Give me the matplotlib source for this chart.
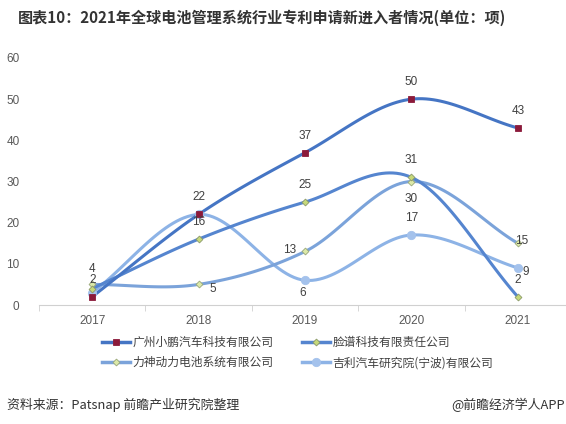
import numpy as np
import matplotlib
matplotlib.use("Agg")
import matplotlib.pyplot as plt
from matplotlib.lines import Line2D

plt.rcParams['font.family'] = ['Noto Sans CJK SC', 'DejaVu Sans']

# 数据
years = ['2017', '2018', '2019', '2020', '2021']
xiaopeng = [2, 22, 37, 50, 43]
lianpu = [4, 16, 25, 31, 2]
lishen = [5, 5, 13, 30, 15]
jili = [3, 22, 6, 17, 9]
names = ['广州小鹏汽车科技有限公司', '脸谱科技有限责任公司',
         '力神动力电池系统有限公司', '吉利汽车研究院(宁波)有限公司']


def smooth(xs, ys, n=30):
    # Catmull-Rom 平滑曲线, 类似 Excel 的平滑线
    px = np.array(xs, float)
    py = np.array(ys, float)
    px = np.concatenate([[2 * px[0] - px[1]], px, [2 * px[-1] - px[-2]]])
    py = np.concatenate([[2 * py[0] - py[1]], py, [2 * py[-1] - py[-2]]])
    ox, oy = [], []
    t = np.linspace(0, 1, n)
    for i in range(1, len(px) - 2):
        for arr, out in ((px, ox), (py, oy)):
            p0, p1, p2, p3 = arr[i - 1], arr[i], arr[i + 1], arr[i + 2]
            out.extend(0.5 * ((2 * p1) + (-p0 + p2) * t +
                              (2 * p0 - 5 * p1 + 4 * p2 - p3) * t ** 2 +
                              (-p0 + 3 * p1 - 3 * p2 + p3) * t ** 3))
    return ox, oy


fig = plt.figure(figsize=(5.66, 4.24), dpi=100)
ax = fig.add_axes([39 / 566, 1 - 305 / 424, 532 / 566, 247 / 424])

x = list(range(len(years)))
styles = [
    (xiaopeng, '#4575c4', 's', '#8b1a3a', '#8b1a3a', 5),
    (lianpu, '#5585cf', 'D', '#c6d97a', '#8c9a6a', 3.5),
    (lishen, '#7ba3da', 'D', '#dce9a8', '#9aa87a', 3.5),
    (jili, '#8db3e6', 'o', '#a4c2ec', '#a4c2ec', 6),
]
# 先画浅色线, 后画深色线
for vals, lc, mk, mfc, mec, ms in styles[::-1]:
    sx, sy = smooth(x, vals)
    ax.plot(sx, sy, color=lc, lw=2.2, solid_capstyle='round', zorder=2)
    ax.plot(x, vals, ls='none', marker=mk, ms=ms, mfc=mfc, mec=mec, mew=0.6, zorder=3)

lab = dict(fontsize=8.5, color='#404040', ha='center', va='center', family='Liberation Sans',
           textcoords='offset points')


def tag(i, v, dx=0, dy=12.2):
    ax.annotate(str(v), (i, v), xytext=(dx, dy), **lab)


# 数据标签
for i in range(1, 5):
    tag(i, xiaopeng[i])
tag(0, xiaopeng[0], 0, 12)
tag(0, lianpu[0], 0, 14)
for i in range(1, 5):
    tag(i, lianpu[i])
tag(1, lishen[1], 10, -3.5)
tag(2, lishen[2], -11, 1)
tag(3, lishen[3], 0, -12.5)
tag(4, lishen[4], 2.5, 1.5)
tag(2, jili[2], -2, -9)
tag(3, jili[3])
tag(4, jili[4], 6, -3)

ax.set_xlim(-0.5, 4.5)
ax.set_ylim(0, 60)
ax.set_yticks(range(0, 61, 10))
ax.set_xticks(x)
ax.set_xticklabels(years)
ax.set_xticks([i + 0.5 for i in range(-1, 5)], minor=True)
ax.tick_params(axis='x', which='major', length=0, labelsize=8, labelcolor='#595959', pad=7)
ax.tick_params(axis='x', which='minor', length=4, color='#d0d0d0', direction='out')
ax.tick_params(axis='y', length=0, labelsize=8, labelcolor='#595959', pad=14)
for lbl in ax.get_xticklabels() + ax.get_yticklabels():
    lbl.set_family('Liberation Sans')
    lbl.set_fontsize(8.5)
for s in ('top', 'right', 'left'):
    ax.spines[s].set_visible(False)
ax.spines['bottom'].set_color('#d0d0d0')
ax.set_facecolor('none')

order = [0, 2, 1, 3]
handles = [Line2D([], [], color=styles[k][1], lw=2.5, marker=styles[k][2], ms=styles[k][5],
                  mfc=styles[k][3], mec=styles[k][4], mew=0.6) for k in order]
fig.legend(handles, [names[k] for k in order], loc='upper left',
           bbox_to_anchor=(102 / 566, 1 - 336 / 424), borderpad=0, borderaxespad=0,
           ncol=2, frameon=False, fontsize=8.5, handlelength=2.4, handletextpad=0.2,
           columnspacing=2.4, labelspacing=0.6, labelcolor='#404040')

fig.text(18 / 566, 1 - 18 / 424, '图表10：2021年全球电池管理系统行业专利申请新进入者情况(单位：项)',
         fontsize=10.9, fontweight='bold', color='#333333', va='center', ha='left')
fig.text(7 / 566, 1 - 405 / 424, '资料来源：Patsnap 前瞻产业研究院整理',
         fontsize=9.3, color='#333333', va='center', ha='left')
fig.text(565 / 566, 1 - 405 / 424, '@前瞻经济学人APP',
         fontsize=9.3, color='#333333', va='center', ha='right')

fig.savefig('out.png', dpi=100)
